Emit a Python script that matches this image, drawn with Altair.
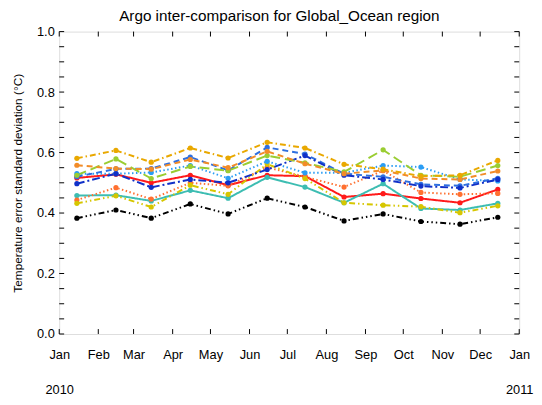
import altair as alt
import pandas as pd

months = ["2010-01-15", "2010-02-15", "2010-03-15", "2010-04-15", "2010-05-15", "2010-06-15",
          "2010-07-15", "2010-08-15", "2010-09-15", "2010-10-15", "2010-11-15", "2010-12-15"]

series_names = ["black", "red", "teal", "orange_dot", "yellow", "lightblue", "blue", "darkblue",
                "green", "orange_dash", "gold"]
colors = ["#000000", "#ff1a1a", "#3dbdb2", "#ff7030", "#d6c600", "#2a9df4", "#2e6fe0", "#1030c8",
          "#9acd32", "#f28c28", "#e9a800"]
dashes = [[6, 3, 1.5, 3, 1.5, 3, 1.5, 3], [1, 0], [1, 0], [1.5, 2.5], [6, 3, 1.5, 3, 1.5, 3],
          [1.5, 2.5], [6, 4], [8, 3, 2, 3], [10, 5], [6, 4], [6, 3, 1.5, 3]]

black = [0.383, 0.410, 0.383, 0.430, 0.397, 0.449, 0.420, 0.374, 0.397, 0.372, 0.363, 0.386]
red = [0.516, 0.528, 0.500, 0.525, 0.492, 0.525, 0.522, 0.453, 0.464, 0.448, 0.434, 0.478]
teal = [0.458, 0.459, 0.440, 0.475, 0.449, 0.518, 0.486, 0.434, 0.497, 0.415, 0.410, 0.432]
orange_dot = [0.443, 0.484, 0.446, 0.500, 0.490, 0.551, 0.520, 0.486, 0.540, 0.468, 0.462, 0.465]
yellow = [0.432, 0.457, 0.420, 0.492, 0.462, 0.562, 0.514, 0.434, 0.426, 0.421, 0.401, 0.424]
lightblue = [0.530, 0.530, 0.534, 0.557, 0.515, 0.571, 0.533, 0.533, 0.557, 0.552, 0.511, 0.506]
blue = [0.520, 0.546, 0.547, 0.585, 0.541, 0.617, 0.595, 0.530, 0.520, 0.495, 0.490, 0.515]
darkblue = [0.497, 0.530, 0.485, 0.511, 0.500, 0.544, 0.590, 0.525, 0.511, 0.489, 0.483, 0.511]
green = [0.525, 0.579, 0.514, 0.554, 0.540, 0.590, 0.566, 0.536, 0.609, 0.525, 0.520, 0.557]
orange_dash = [0.558, 0.547, 0.545, 0.577, 0.550, 0.604, 0.563, 0.530, 0.541, 0.514, 0.511, 0.539]
gold = [0.581, 0.607, 0.568, 0.615, 0.582, 0.634, 0.615, 0.561, 0.545, 0.522, 0.525, 0.574]

all_values = [black, red, teal, orange_dot, yellow, lightblue, blue, darkblue, green, orange_dash, gold]

month_ticks = ["2010-01-01", "2010-02-01", "2010-03-01", "2010-04-01", "2010-05-01", "2010-06-01",
               "2010-07-01", "2010-08-01", "2010-09-01", "2010-10-01", "2010-11-01", "2010-12-01",
               "2011-01-01"]
y_labels = [0.0, 0.2, 0.4, 0.6, 0.8, 1.0]
y_minor = [round(i * 0.05, 2) for i in range(21)]

W, H = 467, 307
FONT = "Liberation Sans"

rows = []
for name, vals in zip(series_names, all_values):
    for m, v in zip(months, vals):
        rows.append({"series": name, "date": m, "value": v})
df = pd.DataFrame(rows)

xscale = alt.Scale(type="utc", domain=[alt.DateTime(year=2010, month=1, date=1, utc=True),
                                       alt.DateTime(year=2011, month=1, date=1, utc=True)])
yscale = alt.Scale(domain=[0, 1])

tick_dates = [alt.DateTime(year=int(d[:4]), month=int(d[5:7]), date=1, utc=True) for d in month_ticks]

x_axis = alt.Axis(values=tick_dates, ticks=False, domain=False, grid=False, title=None,
                  labelFont=FONT, labelFontSize=13, labelColor="black", labelPadding=15,
                  labelOverlap=False, labelFlush=False, labelBound=False, labelLineHeight=35,
                  labelSeparation=0,
                  labelExpr="utcmonth(datum.value) == 0 ? [utcFormat(datum.value, '%b'), utcFormat(datum.value, '%Y')] : utcFormat(datum.value, '%b')")
y_axis = alt.Axis(values=y_labels, format=".1f", ticks=False, domain=False, grid=False,
                  labelFont=FONT, labelFontSize=13, labelColor="black", labelPadding=5,
                  title="Temperature error standard deviation (°C)", titleFont=FONT,
                  titleFontSize=12, titleFontWeight="normal", titleColor="black",
                  titleX=-42, titleY=H / 2, titleBaseline="middle", titleAlign="center",
                  titleAngle=270)

lines = alt.Chart(df).mark_line(strokeWidth=2, point=alt.OverlayMarkDef(filled=True, size=28, opacity=1)).encode(
    x=alt.X("date:T", scale=xscale, axis=x_axis),
    y=alt.Y("value:Q", scale=yscale, axis=y_axis),
    color=alt.Color("series:N", scale=alt.Scale(domain=series_names, range=colors), legend=None),
    strokeDash=alt.StrokeDash("series:N", scale=alt.Scale(domain=series_names, range=dashes), legend=None),
    order=alt.Order("date:T"),
)

ytick_df = pd.DataFrame({"v": y_minor})
ytl = alt.Chart(ytick_df).mark_rule(color="black", strokeWidth=1).encode(
    y=alt.Y("v:Q", scale=yscale, axis=y_axis), x=alt.value(0), x2=alt.value(5))
ytr = alt.Chart(ytick_df).mark_rule(color="black", strokeWidth=1).encode(
    y=alt.Y("v:Q", scale=yscale, axis=y_axis), x=alt.value(W - 5), x2=alt.value(W))

xtick_df = pd.DataFrame({"d": month_ticks})
xtb = alt.Chart(xtick_df).mark_rule(color="black", strokeWidth=1).encode(
    x=alt.X("d:T", scale=xscale, axis=x_axis), y=alt.value(H - 5), y2=alt.value(H))
xtt = alt.Chart(xtick_df).mark_rule(color="black", strokeWidth=1).encode(
    x=alt.X("d:T", scale=xscale, axis=x_axis), y=alt.value(0), y2=alt.value(5))

chart = alt.layer(lines, ytl, ytr, xtb, xtt).properties(
    width=W, height=H,
    title=alt.TitleParams("Argo inter-comparison for Global_Ocean region", font=FONT, fontSize=15.5,
                          fontWeight="normal", color="black", offset=1, anchor="middle", dx=-10),
    autosize=alt.AutoSizeParams(type="none"),
    padding={"left": 52, "top": 21, "right": 15, "bottom": 60},
).configure_view(stroke="black", strokeWidth=1.2).configure(background="white")

chart.save("out.html", embed_options={"renderer": "svg", "actions": False})
